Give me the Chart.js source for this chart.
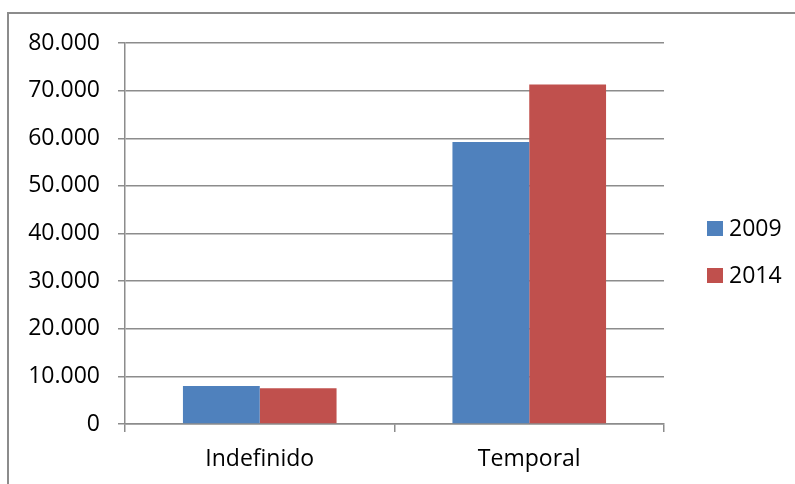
<!DOCTYPE html>
<html>
<head>
<meta charset="utf-8">
<script src="https://cdn.jsdelivr.net/npm/chart.js@4.4.1/dist/chart.umd.min.js"></script>
<style>
  body { margin: 0; background: #fff; }
  #wrap { position: relative; width: 795px; height: 484px; overflow: hidden; }
  #frame { position: absolute; left: 7px; top: 12px; width: 820px; height: 520px; border: 2px solid #8c8c8c; }
  #chart { position: absolute; left: 0; top: 0; }
</style>
</head>
<body>
<div id="wrap">
  <div id="frame"></div>
  <canvas id="chart" width="795" height="484"></canvas>
</div>
<script>
const categories = ['Indefinido', 'Temporal'];
const years = ['2009', '2014'];
const values2009 = [8000, 59200];
const values2014 = [7500, 71300];
const colors = ['#4f81bd', '#c0504d'];

const gridColor = '#8c8c8c';
const font = { family: '"Open Sans", sans-serif', size: 23 };

function fmt(v) {
    return String(v).replace(/\B(?=(\d{3})+(?!\d))/g, '.');
}

// draws the legend to the right of the plot, like the original
const sideLegend = {
    id: 'sideLegend',
    afterDraw(chart) {
        const ctx = chart.ctx;
        const x = chart.chartArea.right + 43;
        ctx.save();
        ctx.font = font.size + 'px ' + font.family;
        ctx.textBaseline = 'middle';
        chart.data.datasets.forEach((ds, i) => {
            const y = 228.5 + i * 47;
            ctx.fillStyle = ds.backgroundColor;
            ctx.fillRect(x, y - 7.5, 16, 15);
            ctx.fillStyle = '#000';
            ctx.fillText(ds.label, x + 22, y + 1);
        });
        ctx.restore();
    }
};

new Chart(document.getElementById('chart'), {
    type: 'bar',
    data: {
        labels: categories,
        datasets: [
            { label: years[0], data: values2009, backgroundColor: colors[0] },
            { label: years[1], data: values2014, backgroundColor: colors[1] }
        ]
    },
    options: {
        responsive: false,
        devicePixelRatio: 1,
        animation: false,
        layout: { padding: { top: 43, right: 131, left: 0, bottom: 0 } },
        datasets: { bar: { categoryPercentage: 0.57, barPercentage: 1.0 } },
        plugins: { legend: { display: false }, tooltip: { enabled: false } },
        scales: {
            x: {
                offset: true,
                grid: { offset: true, drawOnChartArea: false, tickLength: 8, color: gridColor, lineWidth: 1.5 },
                border: { display: true, color: gridColor, width: 1.5 },
                ticks: { color: '#000', font: font, padding: 14 },
                afterFit(scale) { scale.height = 60; }
            },
            y: {
                min: 0,
                max: 80000,
                ticks: { stepSize: 10000, color: '#000', font: font, padding: 18, callback: v => fmt(v) },
                grid: { color: gridColor, lineWidth: 1.5, tickLength: 7 },
                border: { display: true, color: gridColor, width: 1.5 },
                afterFit(scale) { scale.width = 125; }
            }
        }
    },
    plugins: [sideLegend]
});
</script>
</body>
</html>
